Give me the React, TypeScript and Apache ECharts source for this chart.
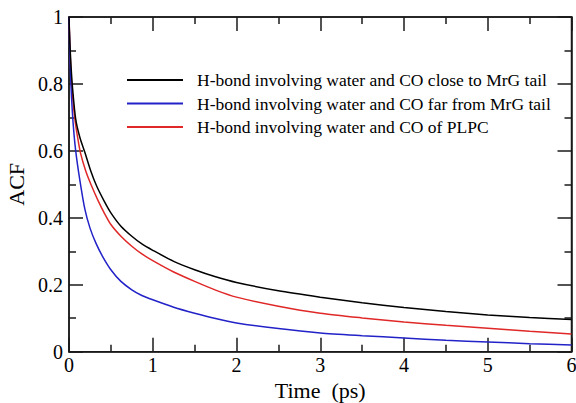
import React, { useEffect, useRef } from "react";
import * as echarts from "echarts";

const seriesNames = [
  "H-bond involving water and CO close to MrG tail",
  "H-bond involving water and CO far from MrG tail",
  "H-bond involving water and CO of PLPC",
];

const closeT = [0, 0.01, 0.025, 0.045, 0.08, 0.13, 0.19, 0.26, 0.33, 0.42, 0.5, 0.62, 0.75, 0.87, 1, 1.25, 1.5, 1.75, 2, 2.5, 3, 3.5, 4, 4.5, 5, 5.5, 6];
const closeV = [1.0, 0.925, 0.85, 0.78, 0.695, 0.64, 0.595, 0.54, 0.495, 0.45, 0.415, 0.375, 0.345, 0.322, 0.303, 0.27, 0.245, 0.224, 0.207, 0.182, 0.163, 0.146, 0.132, 0.12, 0.11, 0.102, 0.096];

const farT = [0, 0.008, 0.018, 0.03, 0.05, 0.08, 0.128, 0.19, 0.25, 0.32, 0.4, 0.5, 0.62, 0.75, 0.87, 1, 1.25, 1.5, 1.75, 2, 2.5, 3, 3.5, 4, 4.5, 5, 5.5, 6];
const farV = [1.0, 0.91, 0.83, 0.76, 0.68, 0.6, 0.515, 0.425, 0.37, 0.325, 0.285, 0.245, 0.21, 0.185, 0.168, 0.155, 0.133, 0.115, 0.099, 0.086, 0.069, 0.056, 0.048, 0.041, 0.034, 0.029, 0.024, 0.02];

const plpcT = [0, 0.01, 0.022, 0.04, 0.07, 0.1, 0.136, 0.2, 0.27, 0.35, 0.42, 0.5, 0.62, 0.75, 0.87, 1, 1.25, 1.5, 1.75, 2, 2.5, 3, 3.5, 4, 4.5, 5, 5.5, 6];
const plpcV = [1.0, 0.915, 0.84, 0.77, 0.695, 0.645, 0.595, 0.54, 0.495, 0.45, 0.415, 0.38, 0.345, 0.315, 0.292, 0.272, 0.238, 0.21, 0.184, 0.163, 0.136, 0.115, 0.101, 0.089, 0.079, 0.07, 0.061, 0.053];

const colors = ["#000000", "#2222c8", "#e02828"];

const FONT = "Liberation Serif";
const AXIS_COLOR = "#1a1a1a";

function zip(t: number[], v: number[]) {
  return t.map((x, i) => [x, v[i]]);
}

function mkAxisLine() {
  return { show: true, onZero: false, lineStyle: { color: AXIS_COLOR, width: 1.5 } };
}
function mkTick() {
  return { show: true, inside: true, length: 14, lineStyle: { color: AXIS_COLOR, width: 1.5 } };
}
function mkMinor() {
  return { show: true, splitNumber: 2, length: 7, lineStyle: { color: AXIS_COLOR, width: 1.5 } };
}

export default function App() {
  const ref = useRef<HTMLDivElement>(null);
  useEffect(() => {
    if (!ref.current) return;
    const chart = echarts.init(ref.current, undefined, { renderer: "svg" });
    const lines = [
      { name: seriesNames[0], type: "line", data: zip(closeT, closeV) },
      { name: seriesNames[1], type: "line", data: zip(farT, farV) },
      { name: seriesNames[2], type: "line", data: zip(plpcT, plpcV) },
    ].map((s, i) => ({
      ...s,
      smooth: 0.25,
      showSymbol: false,
      symbol: "none",
      color: colors[i],
      lineStyle: { color: colors[i], width: 1.5 },
      z: 3 - i,
    }));
    chart.setOption({
      animation: false,
      backgroundColor: "#fff",
      grid: {
        left: 69,
        right: 4.5,
        top: 17,
        bottom: 51.3,
        outerBoundsMode: "none",
        show: true,
        borderColor: AXIS_COLOR,
        borderWidth: 1.5,
        backgroundColor: "transparent",
      },
      legend: {
        orient: "vertical",
        left: 122,
        top: 66,
        itemWidth: 56,
        itemHeight: 2,
        itemGap: 5.5,
        icon: "rect",
        textStyle: { fontFamily: FONT, fontSize: 17.5, color: "#000", lineHeight: 18, padding: [0, 0, 0, 9] },
        data: seriesNames,
      },
      xAxis: [
        {
          type: "value",
          min: 0,
          max: 6,
          interval: 1,
          position: "bottom",
          name: "Time  (ps)",
          nameLocation: "middle",
          nameGap: 24,
          nameTextStyle: { fontFamily: FONT, fontSize: 22, color: "#000" },
          axisLine: mkAxisLine(),
          axisTick: mkTick(),
          minorTick: mkMinor(),
          splitLine: { show: false },
          axisLabel: { fontFamily: FONT, fontSize: 20, color: "#000", margin: 3 },
        },
        {
          type: "value",
          min: 0,
          max: 6,
          interval: 1,
          position: "top",
          axisLine: mkAxisLine(),
          axisTick: mkTick(),
          minorTick: mkMinor(),
          splitLine: { show: false },
          axisLabel: { show: true, formatter: () => "" },
        },
      ],
      yAxis: [
        {
          type: "value",
          min: 0,
          max: 1,
          interval: 0.2,
          position: "left",
          name: "ACF",
          nameLocation: "middle",
          nameGap: 33,
          nameRotate: 90,
          nameTextStyle: { fontFamily: FONT, fontSize: 22, color: "#000" },
          axisLine: mkAxisLine(),
          axisTick: mkTick(),
          minorTick: mkMinor(),
          splitLine: { show: false },
          axisLabel: {
            fontFamily: FONT,
            fontSize: 20,
            color: "#000",
            margin: 6,
            formatter: (v: number) => (v === 0 || v === 1 ? String(v) : v.toFixed(1)),
          },
        },
        {
          type: "value",
          min: 0,
          max: 1,
          interval: 0.2,
          position: "right",
          axisLine: mkAxisLine(),
          axisTick: mkTick(),
          minorTick: mkMinor(),
          splitLine: { show: false },
          axisLabel: { show: true, formatter: () => "" },
        },
      ],
      series: [
        ...lines,
        {
          name: "frame",
          type: "line",
          xAxisIndex: 1,
          yAxisIndex: 1,
          data: [],
          symbol: "none",
        },
      ],
    });
    return () => chart.dispose();
  }, []);
  return (
    <div
      ref={ref}
      style={{ position: "fixed", left: 0, top: 0, width: 576, height: 403, background: "#fff" }}
    />
  );
}
